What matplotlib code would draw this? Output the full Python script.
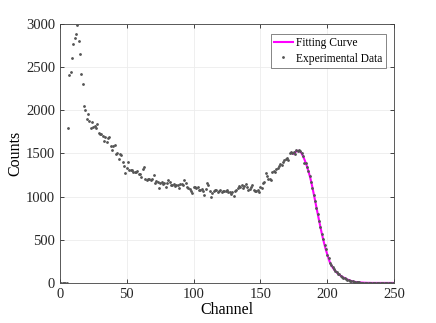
import numpy as np
import matplotlib
matplotlib.use("Agg")
import matplotlib.pyplot as plt

plt.rcParams['font.family'] = ['Liberation Serif', 'DejaVu Serif']
plt.rcParams['mathtext.fontset'] = 'stix'

# measured spectrum, channels 1..250
channels = np.arange(1, 251)
counts = [
    0, 0, 0, 0, 0, 1790, 2410, 2445, 2605, 2770,
    2840, 2885, 2990, 2800, 2650, 2420, 2310, 2055, 2005, 1905,
    1955, 1880, 1800, 1860, 1810, 1820, 1795, 1840, 1735, 1730,
    1725, 1700, 1640, 1690, 1635, 1685, 1690, 1585, 1545, 1590,
    1600, 1495, 1500, 1435, 1490, 1480, 1400, 1350, 1275, 1330,
    1405, 1310, 1305, 1310, 1280, 1290, 1285, 1300, 1265, 1265,
    1230, 1320, 1345, 1200, 1195, 1205, 1200, 1190, 1210, 1250,
    1155, 1180, 1175, 1100, 1160, 1165, 1150, 1160, 1115, 1155,
    1190, 1165, 1140, 1130, 1150, 1120, 1140, 1135, 1105, 1150,
    1145, 1140, 1190, 1160, 1115, 1100, 1085, 1060, 1045, 1110,
    1115, 1105, 1110, 1080, 1075, 1085, 1065, 1020, 1090, 1160,
    1130, 1070, 1000, 1045, 1060, 1080, 1075, 1055, 1070, 1080,
    1055, 1070, 1065, 1060, 1075, 1050, 1050, 1035, 1055, 1010,
    1060, 1080, 1100, 1120, 1115, 1135, 1100, 1125, 1145, 1110,
    1080, 1085, 1110, 1130, 1080, 1070, 1060, 1075, 1050, 1110,
    1100, 1160, 1170, 1275, 1235, 1200, 1210, 1195, 1280, 1300,
    1285, 1320, 1335, 1350, 1380, 1370, 1400, 1420, 1440, 1450,
    1420, 1505, 1515, 1500, 1520, 1490, 1535, 1530, 1540, 1525,
    1500, 1470, 1390, 1385, 1345, 1295, 1240, 1170, 1105, 1020,
    955, 870, 800, 715, 645, 565, 510, 440, 390, 325,
    285, 230, 210, 180, 165, 140, 130, 105, 100, 80,
    75, 62, 55, 45, 40, 30, 25, 22, 18, 14,
    12, 10, 8, 6, 5, 4, 3, 4, 2, 3,
    1, 2, 0, 3, 1, 2, 1, 0, 2, 1,
    3, 1, 0, 2, 1, 1, 2, 0, 1, 2,
]

# fitted curve, channels 175..250
fit_channels = np.arange(175, 251)
fit_counts = [
    1497, 1513, 1525, 1531, 1530, 1520, 1497, 1465, 1430, 1390,
    1345, 1293, 1238, 1175, 1103, 1028, 950, 872, 796, 718,
    643, 572, 505, 443, 385, 335, 285, 240, 208, 182,
    160, 141, 124, 109, 96, 85, 75, 66, 57, 49,
    42, 35, 29, 24, 20, 16, 13, 11, 9, 7,
    6, 5, 4, 3, 3, 2, 2, 2, 1, 1,
    1, 1, 1, 1, 1, 1, 1, 1, 1, 1,
    1, 1, 1, 1, 1, 1,
]

fig = plt.figure(figsize=(4.36, 3.23), dpi=100)
ax = fig.add_axes([0.1376, 0.1238, 0.766, 0.802])

ax.plot(fit_channels, fit_counts, color='#FF00FF', lw=1.5, label='Fitting Curve', zorder=2)
ax.plot(channels, counts, ls='none', marker='o', ms=1.0, color='#555555',
        mec='#555555', label='Experimental Data', zorder=3)

ax.set_xlim(0, 250)
ax.set_ylim(0, 3000)
ax.set_xticks([0, 50, 100, 150, 200, 250])
ax.set_yticks(np.arange(0, 3001, 500))
ax.grid(True, color='#ececec', lw=0.6)
ax.set_axisbelow(True)
ax.tick_params(direction='in', top=True, right=True, labelsize=10.5,
               colors='#262626', length=3, width=0.6)
for s in ax.spines.values():
    s.set_color('#404040')
    s.set_linewidth(0.6)

ax.set_xlabel('Channel', fontsize=11.5, labelpad=1)
ax.set_ylabel('Counts', fontsize=11.5, labelpad=2)

leg = ax.legend(loc='upper right', fontsize=8.3, fancybox=False, framealpha=1,
                edgecolor='#555555', handlelength=1.6, handletextpad=0.3,
                borderpad=0.3, labelspacing=0.3, markerscale=1.0,
                bbox_to_anchor=(0.993, 0.985))
leg.get_frame().set_linewidth(0.5)

fig.savefig('out.png', dpi=100)
